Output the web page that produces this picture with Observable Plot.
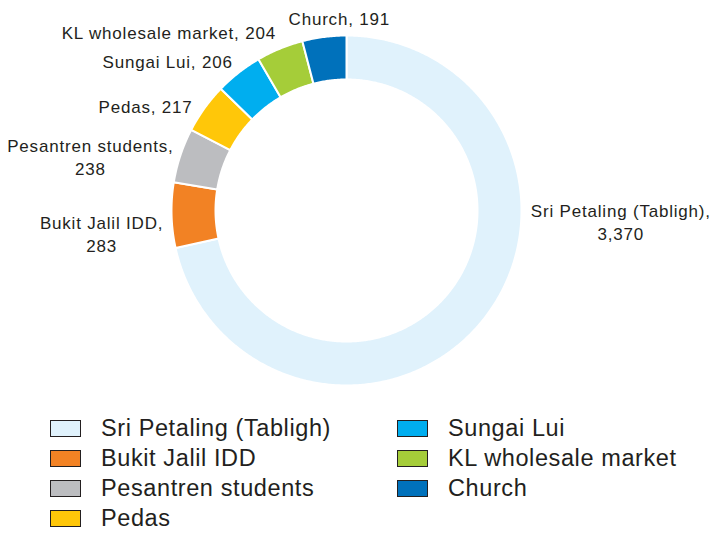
<!DOCTYPE html>
<html>
<head>
<meta charset="utf-8">
<script src="https://cdn.jsdelivr.net/npm/d3@7"></script>
<script src="https://cdn.jsdelivr.net/npm/@observablehq/plot@0.6"></script>
<style>
  html, body { margin: 0; padding: 0; background: #fff; }
  #chart svg { display: block; }
  #chart svg text { letter-spacing: 0.8px; }
  .legend {
    display: grid;
    grid-template-columns: 347px 300px;
    grid-template-rows: repeat(4, 30px);
    grid-auto-flow: column;
    padding-left: 50px;
    font-family: "Liberation Sans", Arial, sans-serif;
    font-size: 23.5px;
    letter-spacing: 0.6px;
    color: #231f20;
  }
  .legend .item { display: flex; align-items: center; }
  .legend .sw {
    width: 29px; height: 15px;
    border: 1.5px solid #231f20;
    margin-right: 20px;
    flex: none;
  }
</style>
</head>
<body>
<div id="chart"></div>
<div class="legend" id="legend"></div>
<script>
// ---- data ----
const names = ["Sri Petaling (Tabligh)", "Bukit Jalil IDD", "Pesantren students", "Pedas", "Sungai Lui", "KL wholesale market", "Church"];
const values = [3370, 283, 238, 217, 206, 204, 191];
const colors = ["#e0f2fc", "#f28224", "#bcbdc0", "#ffc709", "#00aeef", "#a5cd39", "#0071bb"];
const labelTwoLine = [true, true, true, false, false, false, false];
// label nudges (px) from the slice's outer mid-point
const labelNudge = [[138, -99], [-70, 18], [-90, 1], [-59, -3], [-71, -12], [-111, -17], [15, -19]];

// ---- geometry ----
const W = 718, H = 413;
const cx = 346, cy = 210;
const rOuter = 175, rInner = 131;

const data = names.map((name, i) => ({name, value: values[i], i}));
const arcs = d3.pie().sort(null).value(d => d.value)(data);

const ringPts = [];
for (const a of arcs) {
  const n = Math.max(4, Math.ceil((a.endAngle - a.startAngle) * 180 / Math.PI * 2));
  const pts = [];
  for (let k = 0; k <= n; k++) {
    const t = a.startAngle + (a.endAngle - a.startAngle) * k / n;
    pts.push({name: a.data.name, x: rOuter * Math.sin(t), y: -rOuter * Math.cos(t)});
  }
  for (let k = n; k >= 0; k--) {
    const t = a.startAngle + (a.endAngle - a.startAngle) * k / n;
    pts.push({name: a.data.name, x: rInner * Math.sin(t), y: -rInner * Math.cos(t)});
  }
  pts.push(pts[0]);
  ringPts.push(...pts);
}

const fmt = d3.format(",");
const labels = arcs.map((a, i) => {
  const m = (a.startAngle + a.endAngle) / 2;
  const [dx, dy] = labelNudge[i];
  return {
    x: rOuter * Math.sin(m) + dx,
    y: -rOuter * Math.cos(m) + dy,
    text: a.data.name + "," + (labelTwoLine[i] ? "\n" : " ") + fmt(a.data.value)
  };
});

const plot = Plot.plot({
  width: W,
  height: H,
  margin: 0,
  x: {domain: [-cx, W - cx], range: [0, W], axis: null},
  y: {domain: [-cy, H - cy], range: [0, H], axis: null},
  color: {domain: names, range: colors},
  style: {fontFamily: "'Liberation Sans', Arial, sans-serif"},
  marks: [
    Plot.line(ringPts, {x: "x", y: "y", z: "name", fill: "name", stroke: "#fff", strokeWidth: 2, curve: "linear"}),
    Plot.text(labels, {x: "x", y: "y", text: "text", textAnchor: "middle", lineAnchor: "middle", lineHeight: 1.35, fontSize: 17, fill: "#231f20"})
  ]
});
document.getElementById("chart").appendChild(plot);

// ---- legend ----
const leg = document.getElementById("legend");
names.forEach((n, i) => {
  const it = document.createElement("div");
  it.className = "item";
  const sw = document.createElement("span");
  sw.className = "sw";
  sw.style.background = colors[i];
  const tx = document.createElement("span");
  tx.textContent = n;
  it.appendChild(sw); it.appendChild(tx);
  leg.appendChild(it);
});
</script>
</body>
</html>
